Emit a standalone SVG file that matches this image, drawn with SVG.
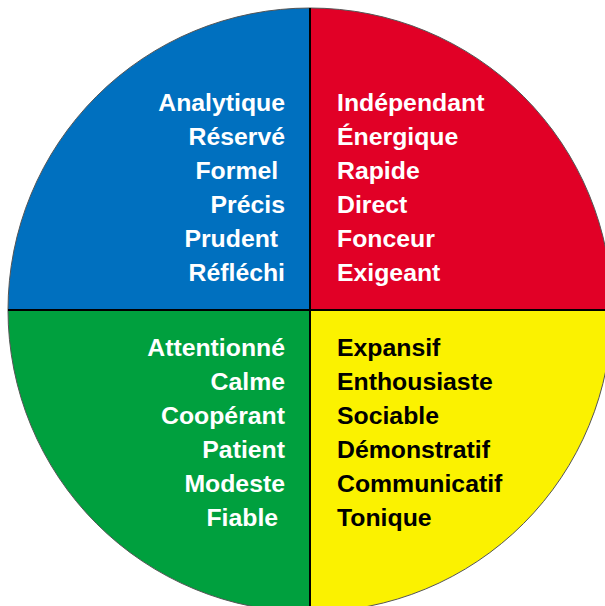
<svg xmlns="http://www.w3.org/2000/svg" width="605" height="606" viewBox="0 0 605 606">
<style>
text{font-family:"Liberation Sans",Arial,sans-serif;font-weight:bold;font-size:24.8px}
.l{text-anchor:end;fill:#fff}
.r{fill:#fff}
.k{fill:#000}
.div{stroke:#000;stroke-width:2;fill:none}
</style>
<rect width="605" height="606" fill="#fff"/>
<g id="blue"><path d="M310 310 L8 310 A302 302 0 0 1 310 8 Z" fill="#0070bf"/>
<text class="l" x="285" y="111">Analytique</text>
<text class="l" x="285" y="145">Réservé</text>
<text class="l" x="285" y="179">Formel&#160;</text>
<text class="l" x="285" y="213">Précis</text>
<text class="l" x="285" y="247">Prudent&#160;</text>
<text class="l" x="285" y="281">Réfléchi</text>
</g>
<g id="red"><path d="M310 310 L310 8 A302 302 0 0 1 612 310 Z" fill="#e10026"/>
<text class="r" x="337" y="111">Indépendant</text>
<text class="r" x="337" y="145">Énergique</text>
<text class="r" x="337" y="179">Rapide</text>
<text class="r" x="337" y="213">Direct</text>
<text class="r" x="337" y="247">Fonceur</text>
<text class="r" x="337" y="281">Exigeant</text>
</g>
<g id="green"><path d="M310 310 L310 612 A302 302 0 0 1 8 310 Z" fill="#00a03e"/>
<text class="l" x="285" y="356">Attentionné</text>
<text class="l" x="285" y="390">Calme</text>
<text class="l" x="285" y="424">Coopérant</text>
<text class="l" x="285" y="458">Patient</text>
<text class="l" x="285" y="492">Modeste</text>
<text class="l" x="285" y="526">Fiable&#160;</text>
</g>
<g id="yellow"><path d="M310 310 L612 310 A302 302 0 0 1 310 612 Z" fill="#fbf200"/>
<text class="k" x="337" y="356">Expansif</text>
<text class="k" x="337" y="390">Enthousiaste</text>
<text class="k" x="337" y="424">Sociable</text>
<text class="k" x="337" y="458">Démonstratif</text>
<text class="k" x="337" y="492">Communicatif</text>
<text class="k" x="337" y="526">Tonique</text>
</g>
<g id="connectors">
<circle cx="310" cy="310" r="302" fill="none" stroke="#555" stroke-width="1"/>
<line class="div" x1="310" y1="8" x2="310" y2="612"/>
<line class="div" x1="8" y1="310" x2="612" y2="310"/>
</g>
</svg>
